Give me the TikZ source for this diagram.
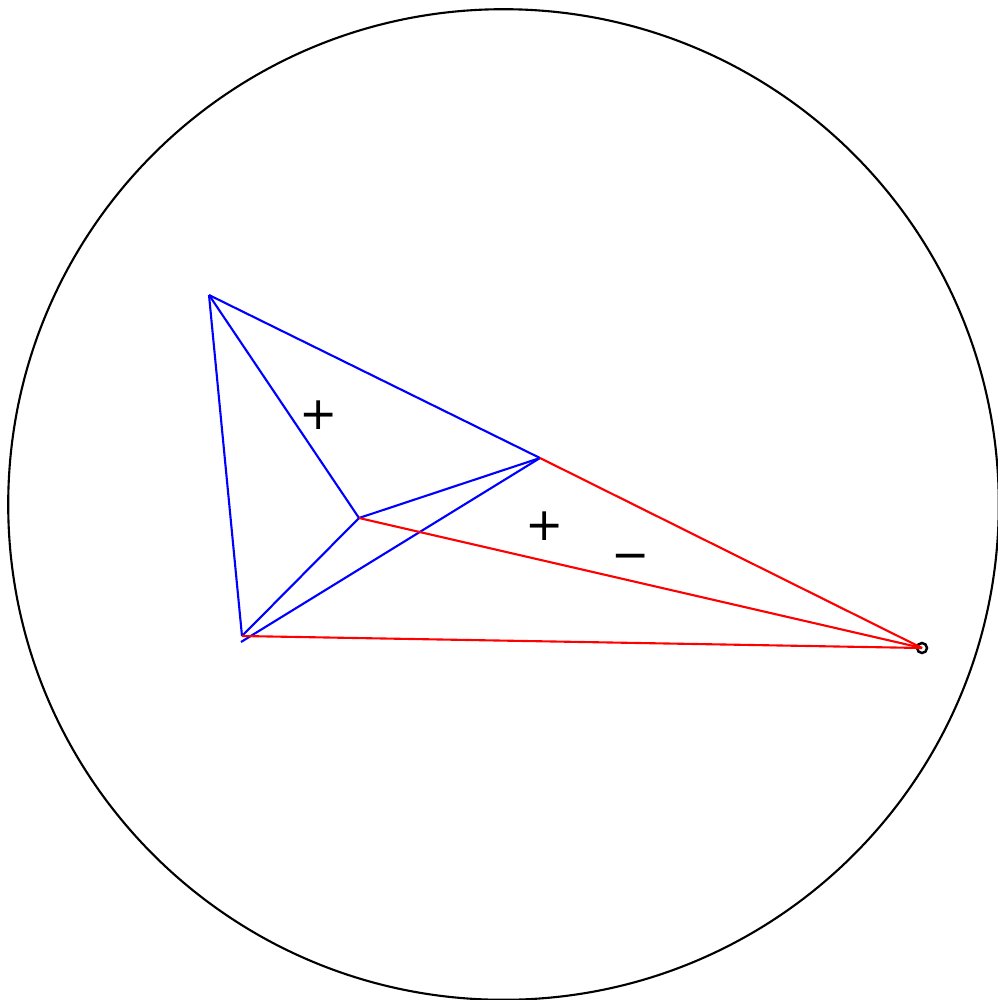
\documentclass[tikz,border=0pt]{standalone}
\usepackage{fontspec}
\setmainfont{DejaVu Sans}
\usepackage{tikz}
\usetikzlibrary{calc}
\tikzset{
  hedge/.style = {draw=blue, line width=0.6pt},
  redge/.style = {draw=red, line width=0.6pt},
  sign/.style  = {font=\fontsize{13}{15}\selectfont, inner sep=0pt}
}
\begin{document}
\begin{tikzpicture}[x=0.01cm, y=-0.01cm]
  \useasboundingbox (0,0) rectangle (998,1000);
  % Outer circle
  \node[draw, circle, line width=0.6pt, minimum size=9.9cm, inner sep=0pt] (disk) at (503.5,504.5) {};

  % Vertices
  \coordinate (A)  at (209,295);
  \coordinate (B)  at (540,458);
  \coordinate (C)  at (359,518);
  \coordinate (D)  at (242,636);
  \coordinate (Dp) at (241,642);
  \node[draw, circle, line width=0.7pt, minimum size=0.1cm, inner sep=0pt] (E) at (922,648) {};

  % Blue triangulation
  \draw[hedge] (A) -- (B);
  \draw[hedge] (A) -- (C);
  \draw[hedge] (A) -- (D);
  \draw[hedge] (C) -- (B);
  \draw[hedge] (C) -- (D);
  \draw[hedge] (Dp) -- (B);

  % Red edges to the point
  \draw[redge] (B) -- (E.center);
  \draw[redge] (C) -- (E.center);
  \draw[redge] (D) -- (E.center);

  % Signs
  \node[sign] (s1) at (319,415) {+};
  \node[sign] (s2) at (545,526) {+};
  \node[sign] (s3) at (631,562) {−};
\end{tikzpicture}
\end{document}
